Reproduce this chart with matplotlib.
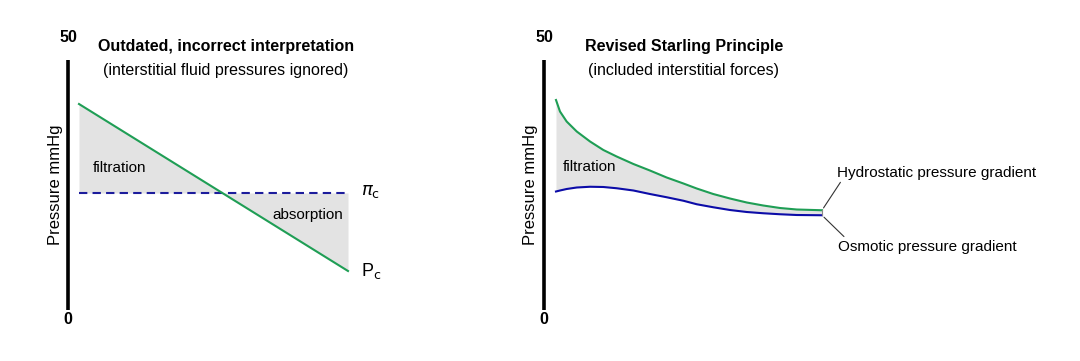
import matplotlib
matplotlib.use("Agg")
import matplotlib.pyplot as plt
import numpy as np

plt.rcParams['font.family'] = ['Liberation Sans', 'DejaVu Sans']

# Datos: posicion a lo largo del capilar (0 = arteriolar, 1 = venular) y presiones en mmHg
y_min, y_max = 0, 50

# Panel izquierdo: interpretacion antigua
old_x = [0.0, 1.0]
old_pc = [41.2, 7.8]          # presion hidrostatica capilar P_c
old_pi_c = 23.4               # presion oncotica capilar pi_c

# Panel derecho: principio de Starling revisado
new_x = [0.0, 0.015, 0.040, 0.078, 0.128, 0.178, 0.228, 0.291, 0.353, 0.416,
         0.479, 0.529, 0.591, 0.654, 0.717, 0.779, 0.842, 0.905, 1.0]
hydro = [42.0, 39.7, 37.7, 35.7, 33.7, 32.0, 30.7, 29.2, 27.9, 26.5,
         25.3, 24.3, 23.2, 22.3, 21.5, 20.9, 20.4, 20.1, 19.95]
osmotic = [23.7, 23.9, 24.2, 24.5, 24.65, 24.6, 24.35, 23.9, 23.2, 22.55,
           21.85, 21.15, 20.55, 20.0, 19.6, 19.35, 19.15, 19.0, 18.95]

green = '#1f9e55'
navy = '#1c1c9c'
blue = '#0c0ca8'
fill_gray = '#e3e3e3'

W, H = 1080, 361
fig = plt.figure(figsize=(W / 100, H / 100), dpi=100)


def make_axes(px_left, px_right, px_x0, px_x1):
    # ejes en pixeles: y=0 en 310 px, y=50 en 60 px (desde arriba)
    top, bottom = 25, 340
    ax = fig.add_axes([px_left / W, (H - bottom) / H,
                       (px_right - px_left) / W, (bottom - top) / H])
    scale = px_x1 - px_x0
    ax.set_xlim((px_left - px_x0) / scale, (px_right - px_x0) / scale)
    ax.set_ylim((310 - bottom) / 5.0, (310 - top) / 5.0)
    ax.axis('off')
    return ax, scale


def draw_frame(ax, axis_x, ylabel_x):
    ax.plot([axis_x, axis_x], [y_min, y_max], color='black', lw=2.6,
            solid_capstyle='butt')
    ax.text(axis_x, y_max + 4.4, str(y_max), ha='center', va='center',
            fontsize=11.5, fontweight='bold')
    ax.text(axis_x, y_min - 2.0, str(y_min), ha='center', va='center',
            fontsize=11.5, fontweight='bold')
    ax.text(ylabel_x, 25, 'Pressure mmHg', rotation=90, ha='center',
            va='center', fontsize=12)


# ---- Panel izquierdo ----
ax1, s1 = make_axes(20, 440, 79, 348)
draw_frame(ax1, (68 - 79) / s1, (55 - 79) / s1)
xs = np.array(old_x)
pc = np.array(old_pc)
ax1.fill_between(xs, pc, old_pi_c, color=fill_gray, lw=0)
ax1.plot(xs, [old_pi_c, old_pi_c], color=navy, lw=1.5, ls=(0, (4, 2.5)))
ax1.plot(xs, pc, color=green, lw=1.5)
ax1.text(0.05, 28.4, 'filtration', fontsize=11, va='center')
ax1.text(0.72, 19.0, 'absorption', fontsize=11, va='center')
ax1.text(1.05, 23.6, r'$\pi_{\rm c}$', fontsize=13, va='center')
ax1.text(1.05, 7.8, r'P$_{\rm c}$', fontsize=13, va='center')
ax1.text(0.545, 52.6, 'Outdated, incorrect interpretation', ha='center',
         va='center', fontsize=11.5, fontweight='bold')
ax1.text(0.545, 48.0, '(interstitial fluid pressures ignored)', ha='center',
         va='center', fontsize=11.5)

# ---- Panel derecho ----
ax2, s2 = make_axes(500, 1075, 556, 822)
draw_frame(ax2, (544 - 556) / s2, (530 - 556) / s2)
ax2.fill_between(new_x, hydro, osmotic, color=fill_gray, lw=0)
ax2.plot(new_x, hydro, color=green, lw=1.5, solid_joinstyle='round')
ax2.plot(new_x, osmotic, color=blue, lw=1.5, solid_joinstyle='round')
ax2.plot([1.0, 1.0], [osmotic[-1], hydro[-1]], color='#888888', lw=0.8)
ax2.text(0.025, 28.6, 'filtration', fontsize=11, va='center')
ax2.text(1.055, 27.5, 'Hydrostatic pressure gradient', fontsize=11, va='center')
ax2.text(1.062, 12.5, 'Osmotic pressure gradient', fontsize=11, va='center')
ax2.annotate('', xy=(1.0, hydro[-1]), xytext=(1.075, 26.0),
             arrowprops=dict(arrowstyle='-', color='#333333', lw=0.8))
ax2.annotate('', xy=(1.0, osmotic[-1]), xytext=(1.09, 14.3),
             arrowprops=dict(arrowstyle='-', color='#333333', lw=0.8))
ax2.text(0.48, 52.6, 'Revised Starling Principle', ha='center',
         va='center', fontsize=11.5, fontweight='bold')
ax2.text(0.48, 48.0, '(included interstitial forces)', ha='center',
         va='center', fontsize=11.5)

fig.savefig('out.png', dpi=100, facecolor='white')
